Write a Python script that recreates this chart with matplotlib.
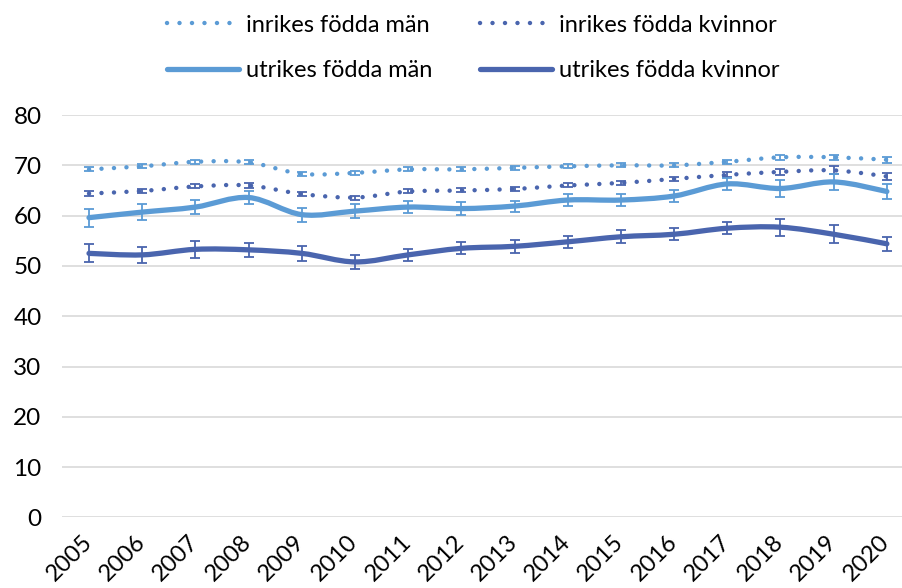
import matplotlib
matplotlib.use('Agg')
import matplotlib.pyplot as plt
import matplotlib.transforms as mtransforms
import numpy as np
from matplotlib.path import Path
from matplotlib.patches import PathPatch
from matplotlib.lines import Line2D

plt.rcParams['font.family'] = ['Lato', 'DejaVu Sans']

years = list(range(2005, 2021))

inrikes_man = [69.2, 69.8, 70.7, 70.6, 68.3, 68.5, 69.2, 69.2, 69.5, 69.8, 70.0, 70.0, 70.7, 71.6, 71.6, 71.1]
inrikes_man_err = [0.4, 0.4, 0.4, 0.4, 0.4, 0.4, 0.4, 0.4, 0.4, 0.4, 0.4, 0.4, 0.45, 0.55, 0.55, 0.55]
inrikes_kv = [64.4, 64.9, 65.8, 66.0, 64.3, 63.6, 64.8, 65.0, 65.3, 66.0, 66.5, 67.3, 68.1, 68.7, 69.0, 67.8]
inrikes_kv_err = [0.4, 0.4, 0.4, 0.45, 0.4, 0.4, 0.4, 0.4, 0.4, 0.4, 0.4, 0.45, 0.5, 0.6, 0.8, 0.65]
utrikes_man = [59.6, 60.7, 61.7, 63.6, 60.2, 60.9, 61.7, 61.4, 61.9, 63.1, 63.1, 63.9, 66.3, 65.4, 66.7, 64.8]
utrikes_man_err = [1.8, 1.55, 1.45, 1.25, 1.4, 1.35, 1.2, 1.3, 1.1, 1.15, 1.15, 1.15, 1.2, 1.6, 1.6, 1.4]
utrikes_kv = [52.5, 52.2, 53.3, 53.2, 52.5, 50.8, 52.2, 53.5, 53.9, 54.8, 55.8, 56.3, 57.5, 57.7, 56.3, 54.4]
utrikes_kv_err = [1.8, 1.55, 1.75, 1.45, 1.45, 1.35, 1.25, 1.2, 1.25, 1.25, 1.25, 1.2, 1.2, 1.7, 1.8, 1.4]

labels = ['inrikes födda män', 'inrikes födda kvinnor', 'utrikes födda män', 'utrikes födda kvinnor']

ljus = '#5B9BD5'
mork = '#4A65AE'


def smooth_path(x, y):
    # catmull-rom -> bezier, så att linjen blir mjuk som i Excel
    x = np.asarray(x, float)
    y = np.asarray(y, float)
    pts = np.column_stack([x, y])
    p = np.vstack([pts[0], pts, pts[-1]])
    verts = [pts[0]]
    codes = [Path.MOVETO]
    for i in range(1, len(p) - 2):
        c1 = p[i] + (p[i + 1] - p[i - 1]) / 6
        c2 = p[i + 1] - (p[i + 2] - p[i]) / 6
        verts += [c1, c2, p[i + 1]]
        codes += [Path.CURVE4] * 3
    return Path(verts, codes)


fig = plt.figure(figsize=(9.02, 5.88), dpi=100)
ax = fig.add_axes([0.0692, 0.1199, 0.9435, 0.6845])

dots = (0, (0.01, 2.8))
serier = [
    (inrikes_man, inrikes_man_err, ljus, dots, 3.2),
    (inrikes_kv, inrikes_kv_err, mork, dots, 3.2),
    (utrikes_man, utrikes_man_err, ljus, '-', 3.8),
    (utrikes_kv, utrikes_kv_err, mork, '-', 3.8),
]

for vals, err, col, ls, lw in serier:
    patch = PathPatch(smooth_path(years, vals), fill=False, edgecolor=col, lw=lw,
                      linestyle=ls, capstyle='round', joinstyle='round', zorder=3)
    ax.add_patch(patch)
    ax.errorbar(years, vals, yerr=err, fmt='none', ecolor=col, elinewidth=1.3,
                capsize=3.6, capthick=1.3, zorder=4)

ax.set_xlim(2004.5, 2020.5)
ax.set_ylim(0, 80)
ax.set_yticks(range(0, 81, 10))
ax.set_xticks(years)
ax.set_xticklabels([str(y) for y in years], rotation=45, ha='right')
ax.tick_params(axis='both', length=0, labelsize=17.5)
ax.tick_params(axis='x', labelsize=17)
ax.tick_params(axis='y', pad=15)
ax.tick_params(axis='x', pad=10)
skift = mtransforms.ScaledTranslation(7 / 100, 0, fig.dpi_scale_trans)
for t in ax.get_xticklabels():
    t.set_transform(t.get_transform() + skift)
ax.grid(axis='y', color='#D9D9D9', lw=1.2)
ax.set_axisbelow(True)
for s in ax.spines.values():
    s.set_visible(False)

handles = [
    Line2D([], [], color=ljus, lw=3.2, linestyle=dots, dash_capstyle='round'),
    Line2D([], [], color=ljus, lw=3.8, solid_capstyle='round'),
    Line2D([], [], color=mork, lw=3.2, linestyle=dots, dash_capstyle='round'),
    Line2D([], [], color=mork, lw=3.8, solid_capstyle='round'),
]
leg_labels = [labels[0], labels[2], labels[1], labels[3]]
fig.legend(handles, leg_labels, loc='upper left', bbox_to_anchor=(0.185, 0.975),
           ncol=2, frameon=False, fontsize=17, handlelength=3.05, handletextpad=0.3,
           columnspacing=2.0, labelspacing=1.05, borderpad=0, borderaxespad=0)

plt.savefig('out.png', dpi=100)
